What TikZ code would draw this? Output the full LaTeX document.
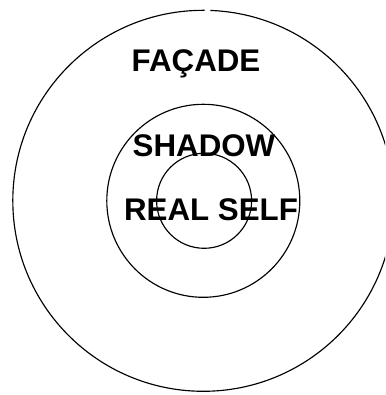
\documentclass[tikz,border=0pt]{standalone}
\usepackage{fontspec}
\setmainfont{Liberation Sans}
\begin{document}
\begin{tikzpicture}[x=1pt,y=1pt,
  ring/.style={draw=black,line width=1.15pt},
  lbl/.style={inner sep=0pt,anchor=base,font=\fontsize{31.3}{36}\selectfont\bfseries}]
\useasboundingbox (0,0) rectangle (385,-395);
\clip (0,0) rectangle (385,-395);
\coordinate (c) at (203.3,-200.8);
% outer ring with small gap at the top
\draw[ring] ([shift={(89.6:190.5)}]c) arc[start angle=89.6,end angle=447.9,radius=190.5];
\draw[ring] (c) circle[radius=96.5];
\draw[ring] ([xshift=0.8pt]c) circle[radius=47.5];
\node[lbl] (facade) at (196,-71.7) {FAÇADE};
\node[lbl] (shadow) at (204,-157) {SHADOW};
\node[lbl] (real) at (211,-220) {REAL SELF};
\end{tikzpicture}
\end{document}
